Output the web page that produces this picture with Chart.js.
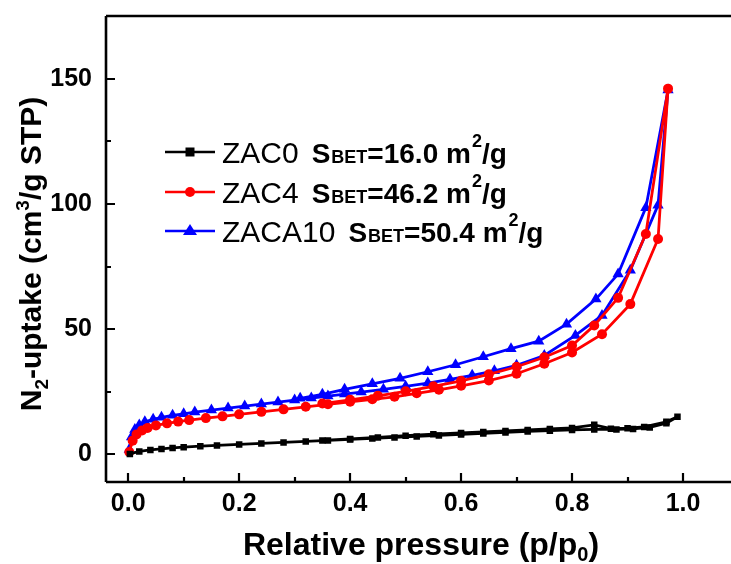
<!DOCTYPE html>
<html>
<head>
<meta charset="utf-8">
<script src="https://cdn.jsdelivr.net/npm/chart.js@4.4.1/dist/chart.umd.min.js"></script>
<style>
html,body{margin:0;padding:0;background:#fff;overflow:hidden;}
#wrap{width:745px;height:564px;}
</style>
</head>
<body>
<div id="wrap"><canvas id="c" width="745" height="564"></canvas></div>
<script>
// ---- data ----
const xTicks = [0.0, 0.2, 0.4, 0.6, 0.8, 1.0];
const yTicks = [0, 50, 100, 150];

const seriesNames = ['ZAC0', 'ZAC4', 'ZACA10'];
const sbetValues = ['16.0', '46.2', '50.4'];

// ZAC0 adsorption / desorption
const zac0AdsP = [0.003,0.02,0.04,0.06,0.08,0.10,0.13,0.16,0.20,0.24,0.28,0.32,0.36,0.40,0.44,0.48,0.52,0.56,0.60,0.64,0.68,0.72,0.76,0.80,0.84,0.88,0.91,0.94,0.97,0.99];
const zac0AdsV = [0.2,1.2,1.8,2.2,2.6,2.9,3.3,3.6,4.0,4.4,4.8,5.2,5.6,6.0,6.4,6.8,7.2,7.6,8.0,8.4,8.8,9.2,9.5,9.8,10.0,10.0,10.2,10.8,12.5,15.0];
const zac0DesP = [0.97,0.93,0.90,0.87,0.84,0.80,0.76,0.72,0.68,0.64,0.60,0.55,0.50,0.45,0.40,0.35];
const zac0DesV = [13.0,11.0,10.5,10.3,11.8,10.6,10.2,9.8,9.4,9.0,8.6,8.1,7.5,6.8,6.2,5.6];

// ZAC4 adsorption / desorption
const zac4AdsP = [0.002,0.008,0.015,0.025,0.035,0.05,0.07,0.09,0.11,0.14,0.17,0.20,0.24,0.28,0.32,0.36,0.40,0.44,0.48,0.52,0.56,0.60,0.65,0.70,0.75,0.80,0.854,0.905,0.955,0.973];
const zac4AdsV = [1.0,5.5,8.0,9.6,10.6,11.6,12.4,13.1,13.7,14.5,15.2,16.0,17.0,18.0,19.0,20.0,21.0,22.0,23.0,24.4,25.8,27.4,29.5,32.2,36.2,40.7,48.0,60.0,86.0,146.0];
const zac4DesP = [0.933,0.883,0.84,0.80,0.75,0.70,0.65,0.60,0.55,0.50,0.45,0.40,0.35];
const zac4DesV = [88.0,62.5,51.5,43.5,38.8,35.0,32.0,29.4,27.2,25.2,23.4,21.8,20.3];

// ZACA10 adsorption / desorption
const zaca10AdsP = [0.002,0.006,0.012,0.02,0.03,0.045,0.06,0.08,0.10,0.12,0.15,0.18,0.21,0.24,0.27,0.30,0.33,0.36,0.39,0.42,0.46,0.50,0.54,0.58,0.62,0.66,0.70,0.75,0.806,0.854,0.905,0.955,0.973];
const zaca10AdsV = [2.0,7.0,10.0,11.8,13.0,14.0,14.8,15.6,16.2,16.9,17.7,18.5,19.3,20.1,20.9,21.7,22.5,23.3,24.1,24.9,26.0,27.2,28.5,30.0,31.6,33.4,35.6,39.5,47.5,55.5,73.5,99.5,145.5];
const zaca10DesP = [0.933,0.883,0.843,0.79,0.74,0.69,0.64,0.59,0.54,0.49,0.44,0.39,0.35,0.31];
const zaca10DesV = [98.5,72.0,62.0,52.0,45.2,42.2,39.0,35.8,33.0,30.4,28.2,26.0,24.0,22.4];

function pts(px, py){ return px.map((p,i)=>({x:p, y:py[i]})); }

const colors = ['#000000', '#ff0000', '#0000ff'];
const styles = ['rect', 'circle', 'triangle'];
const radii = [4.6, 5, 6.5];

const dataSets = [
  pts(zac0AdsP, zac0AdsV).concat(pts(zac0DesP, zac0DesV)),
  pts(zac4AdsP, zac4AdsV).concat(pts(zac4DesP, zac4DesV)),
  pts(zaca10AdsP, zaca10AdsV).concat(pts(zaca10DesP, zaca10DesV))
];

const FONT = '"Liberation Sans", Arial, sans-serif';

// frame, inward ticks, axis titles and legend
const framePlugin = {
  id: 'frame',
  afterDatasetsDraw(chart){
    const ctx = chart.ctx, a = chart.chartArea;
    const xs = chart.scales.x, ys = chart.scales.y;
    ctx.save();
    ctx.strokeStyle = '#000';
    ctx.lineWidth = 2.6;
    ctx.beginPath();
    ctx.moveTo(a.left, a.top); ctx.lineTo(a.right, a.top);
    ctx.moveTo(a.left, a.top); ctx.lineTo(a.left, a.bottom);
    ctx.moveTo(a.left, a.bottom); ctx.lineTo(a.right, a.bottom);
    ctx.moveTo(a.right, a.top); ctx.lineTo(a.right, a.bottom);
    ctx.stroke();
    ctx.lineWidth = 2.2;
    ctx.beginPath();
    for (let k = 0; k <= 10; k++) {
      const major = k % 2 === 0;
      const px = Math.round(xs.getPixelForValue(k / 10));
      ctx.moveTo(px, a.bottom); ctx.lineTo(px, a.bottom - (major ? 9 : 5));
    }
    for (let v = 0; v <= 150; v += 25) {
      const major = v % 50 === 0;
      const py = Math.round(ys.getPixelForValue(v));
      ctx.moveTo(a.left, py); ctx.lineTo(a.left + (major ? 9 : 5), py);
    }
    ctx.stroke();
    ctx.restore();
  },
  afterDraw(chart){
    const ctx = chart.ctx;
    ctx.save();
    ctx.fillStyle = '#000';
    ctx.textBaseline = 'alphabetic';
    // x title: Relative pressure (p/p0)
    const big = 'bold 32px ' + FONT, small = 'bold 20px ' + FONT;
    ctx.font = big;
    const t1 = 'Relative pressure (p/p';
    const w1 = ctx.measureText(t1).width;
    ctx.font = small; const w2 = ctx.measureText('0').width;
    ctx.font = big; const w3 = ctx.measureText(')').width;
    const cx = 421;
    let x0 = cx - (w1 + w2 + w3) / 2, yb = 555;
    ctx.font = big; ctx.fillText(t1, x0, yb);
    ctx.font = small; ctx.fillText('0', x0 + w1, yb + 6);
    ctx.font = big; ctx.fillText(')', x0 + w1 + w2, yb);
    // y title: N2-uptake (cm3/g STP)
    ctx.translate(41, 254);
    ctx.rotate(-Math.PI / 2);
    const big2 = 'bold 30px ' + FONT, small2 = 'bold 19px ' + FONT;
    const parts = [['N', big2, 0], ['2', small2, 7], ['-uptake (cm', big2, 0], ['3', small2, -12], ['/g STP)', big2, 0]];
    let tw = 0;
    parts.forEach(p => { ctx.font = p[1]; tw += ctx.measureText(p[0]).width; });
    let px = -tw / 2;
    parts.forEach(p => { ctx.font = p[1]; ctx.fillText(p[0], px, p[2]); px += ctx.measureText(p[0]).width; });
    ctx.restore();

    // legend
    ctx.save();
    const rows = [152, 192, 231];
    for (let i = 0; i < 3; i++) {
      const y = rows[i];
      ctx.strokeStyle = colors[i]; ctx.lineWidth = 2.6;
      ctx.beginPath(); ctx.moveTo(165, y); ctx.lineTo(215, y); ctx.stroke();
      ctx.fillStyle = colors[i];
      ctx.beginPath();
      if (i === 0) { ctx.rect(185.5, y - 4.5, 9, 9); }
      else if (i === 1) { ctx.arc(190, y, 5, 0, Math.PI * 2); }
      else { ctx.moveTo(190, y - 7); ctx.lineTo(197, y + 4); ctx.lineTo(183, y + 4); ctx.closePath(); }
      ctx.fill();
      ctx.fillStyle = '#000';
      const base = y + 11;
      ctx.font = '30px ' + FONT;
      ctx.fillText(seriesNames[i], 222, base);
      let xx = 222 + ctx.measureText(seriesNames[i]).width + 13;
      ctx.font = 'bold 28px ' + FONT; ctx.fillText('S', xx, base); xx += ctx.measureText('S').width + 1;
      ctx.font = 'bold 18px ' + FONT; ctx.fillText('BET', xx, base); xx += ctx.measureText('BET').width;
      ctx.font = 'bold 28px ' + FONT; const s = '=' + sbetValues[i] + ' m';
      ctx.fillText(s, xx, base); xx += ctx.measureText(s).width;
      ctx.font = 'bold 18px ' + FONT; ctx.fillText('2', xx + 1, base - 16); xx += ctx.measureText('2').width + 1;
      ctx.font = 'bold 28px ' + FONT; ctx.fillText('/g', xx, base);
    }
    ctx.restore();
  }
};

new Chart(document.getElementById('c'), {
  type: 'scatter',
  data: {
    datasets: dataSets.map((d, i) => ({
      label: seriesNames[i],
      data: d,
      showLine: true,
      borderColor: colors[i],
      backgroundColor: colors[i],
      borderWidth: 2.8,
      pointStyle: styles[i],
      pointRadius: radii[i],
      pointBorderWidth: 0,
      pointHoverRadius: radii[i],
      tension: 0
    }))
  },
  options: {
    responsive: false,
    animation: false,
    events: [],
    layout: { padding: { left: 0, top: 16, right: 6, bottom: 0 } },
    plugins: { legend: { display: false }, tooltip: { enabled: false } },
    scales: {
      x: {
        type: 'linear', min: -0.04, max: 1.1,
        afterBuildTicks(s){ s.ticks = xTicks.map(v => ({ value: v })); },
        afterFit(s){ s.height = 82; s.paddingLeft = 0; s.paddingRight = 0; },
        grid: { display: false, drawTicks: false },
        border: { display: false },
        ticks: { padding: 7, color: '#000', font: { family: FONT, size: 25, weight: 'bold' }, callback: v => Number(v).toFixed(1), maxRotation: 0, autoSkip: false }
      },
      y: {
        type: 'linear', min: -11, max: 175,
        afterBuildTicks(s){ s.ticks = yTicks.map(v => ({ value: v })); },
        afterFit(s){ s.width = 106; s.paddingTop = 0; s.paddingBottom = 0; },
        grid: { display: false, drawTicks: false },
        border: { display: false },
        ticks: { padding: 14, color: '#000', font: { family: FONT, size: 25, weight: 'bold' }, callback: v => String(v), autoSkip: false }
      }
    }
  },
  plugins: [framePlugin]
});
</script>
</body>
</html>
